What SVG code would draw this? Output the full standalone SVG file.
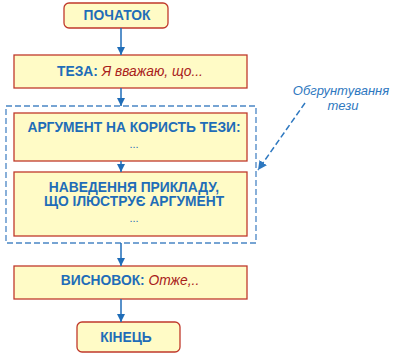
<svg xmlns="http://www.w3.org/2000/svg" width="396" height="356" viewBox="0 0 396 356">
<defs>
<marker id="ah" viewBox="0 0 10 10" refX="10" refY="5" markerWidth="8" markerHeight="8" markerUnits="userSpaceOnUse" orient="auto">
<path d="M0,0 L10,5 L0,10 z" fill="#1F6DB8"/>
</marker>
<marker id="ah2" viewBox="0 0 10 10" refX="10" refY="5" markerWidth="9" markerHeight="9" markerUnits="userSpaceOnUse" orient="auto">
<path d="M0,0 L10,5 L0,10 z" fill="#2E78C0"/>
</marker>
<style>
.box{fill:#FFFBC6;stroke:#C0392B;stroke-width:1.3}
.t{font-family:"Liberation Sans",Arial,sans-serif;font-weight:bold;font-size:13.8px;fill:#1F6DB8;text-anchor:middle}
.i{font-family:"Liberation Sans",Arial,sans-serif;font-style:italic;font-weight:normal;fill:#A8201A}
.d{font-family:"Liberation Sans",Arial,sans-serif;font-size:11px;fill:#1F6DB8;text-anchor:middle}
.a{font-family:"Liberation Sans",Arial,sans-serif;font-style:italic;font-size:13px;fill:#2E78C0;text-anchor:middle}
.c{stroke:#1F6DB8;stroke-width:1.5;fill:none;marker-end:url(#ah)}
</style>
</defs>
<rect width="396" height="356" fill="#FFFFFF"/>
<g id="group-obgruntuvannia">
<rect x="6" y="106" width="250" height="137" fill="none" stroke="#4A86C5" stroke-width="1.3" stroke-dasharray="6,3"/>
</g>
<g id="start">
<rect class="box" x="64" y="3" width="104" height="25" rx="5"/>
<text class="t" x="117" y="20">ПОЧАТОК</text>
</g>
<g id="teza">
<rect class="box" x="14" y="55" width="233" height="33"/>
<text class="t" x="130" y="76">ТЕЗА: <tspan class="i">Я вважаю, що...</tspan></text>
</g>
<g id="argument">
<rect class="box" x="14" y="113" width="233" height="48"/>
<text class="t" x="134" y="132">АРГУМЕНТ НА КОРИСТЬ ТЕЗИ:</text>
<text class="d" x="134" y="148">...</text>
</g>
<g id="pryklad">
<rect class="box" x="14" y="172" width="233" height="64"/>
<text class="t" x="134" y="192">НАВЕДЕННЯ ПРИКЛАДУ,</text>
<text class="t" x="134" y="206">ЩО ІЛЮСТРУЄ АРГУМЕНТ</text>
<text class="d" x="134" y="222">...</text>
</g>
<g id="vysnovok">
<rect class="box" x="14" y="266" width="233" height="33"/>
<text class="t" x="130" y="285">ВИСНОВОК: <tspan class="i">Отже,..</tspan></text>
</g>
<g id="end">
<rect class="box" x="77" y="322" width="103" height="30" rx="5"/>
<text class="t" x="126" y="342">КІНЕЦЬ</text>
</g>
<g id="annotation">
<text class="a" x="341" y="95">Обгрунтування</text>
<text class="a" x="343" y="110">тези</text>
</g>
<g id="connectors">
<line class="c" x1="121" y1="28" x2="121" y2="55"/>
<line class="c" x1="121" y1="88" x2="121" y2="106"/>
<line class="c" x1="121" y1="161" x2="121" y2="172"/>
<line class="c" x1="121" y1="243" x2="121" y2="266"/>
<line class="c" x1="121" y1="299" x2="121" y2="322"/>
<line x1="305" y1="103" x2="258" y2="170" stroke="#2E78C0" stroke-width="1.5" stroke-dasharray="6,3" marker-end="url(#ah2)"/>
</g>
</svg>
